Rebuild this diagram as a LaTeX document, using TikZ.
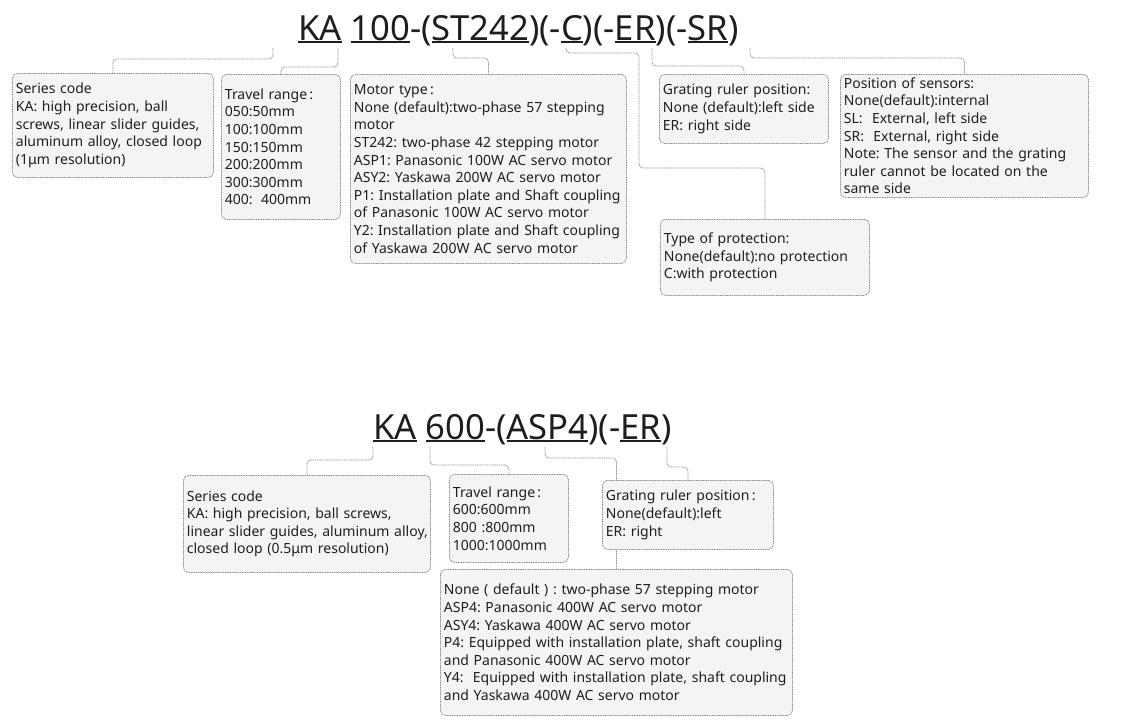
\documentclass[tikz,border=0pt]{standalone}
\usepackage{fontspec}
\setmainfont{Noto Sans}
\definecolor{boxfill}{HTML}{F4F5F3}
\definecolor{boxline}{HTML}{8C8C8C}
\definecolor{ink}{HTML}{1E1E1E}
\newcommand\ulx[1]{\setbox0\hbox{#1}\rlap{\rule[-3pt]{\wd0}{1.6pt}}\box0\relax}
\frenchspacing
\hyphenpenalty=10000
\exhyphenpenalty=10000
\pgfdeclarelayer{bg}
\pgfsetlayers{bg,main}
\tikzset{
  infobox/.style={draw=boxline, line width=0.8pt, dash pattern=on 1pt off 0.7pt,
    fill=boxfill, rounded corners=5pt, anchor=north west, align=left,
    inner xsep=3.5pt, inner ysep=0pt, text=ink,
    font=\fontsize{14}{17.6}\selectfont},
  conn/.style={draw=boxline, line width=0.8pt, dash pattern=on 1pt off 0.7pt, rounded corners=4pt},
  titletext/.style={anchor=base west, inner sep=0pt, text=ink, font=\fontsize{34.6}{40}\selectfont}
}
\begin{document}
\begin{tikzpicture}[x=1pt,y=-1pt]
\useasboundingbox (0,0) rectangle (1122,728);
% titles
\node[titletext] (title1) at (298,40) {\ulx{KA} \ulx{100}-(\ulx{ST242})(-\ulx{C})(-\ulx{ER})(-\ulx{SR})};
\node[titletext] (title2) at (373,439) {\ulx{KA} \ulx{600}-(\ulx{ASP4})(-\ulx{ER})};
% upper boxes
\node[infobox, minimum width=201pt, minimum height=104pt, text width=194pt] (b1) at (12,73)
 {Series code\\KA: high precision, ball\\screws, linear slider guides,\\aluminum alloy, closed loop\\(1μm resolution)};
\node[infobox, minimum width=119pt, minimum height=145pt, text width=112pt] (b2) at (221,74)
 {Travel range\,:\\050:50mm\\100:100mm\\150:150mm\\200:200mm\\300:300mm\\400:\hspace{0.6em}400mm};
\node[infobox, minimum width=276pt, minimum height=189pt, text width=269pt] (b3) at (350,74)
 {Motor type\,:\\None (default):two-phase 57 stepping\\motor\\ST242: two-phase 42 stepping motor\\ASP1: Panasonic 100W AC servo motor\\ASY2: Yaskawa 200W AC servo motor\\P1: Installation plate and Shaft coupling\\of Panasonic 100W AC servo motor\\Y2: Installation plate and Shaft coupling\\of Yaskawa 200W AC servo motor};
\node[infobox, minimum width=169pt, minimum height=69pt, text width=162pt] (b4) at (659,74)
 {Grating ruler position:\\None (default):left side\\ER: right side};
\node[infobox, minimum width=248pt, minimum height=123pt, text width=241pt] (b5) at (840,74)
 {Position of sensors:\\None(default):internal\\SL:\ \ External, left side\\SR:\ \ External, right side\\Note: The sensor and the grating\\ruler cannot be located on the\\same side};
\node[infobox, minimum width=209pt, minimum height=76pt, text width=202pt] (b6) at (660,219)
 {Type of protection:\\None(default):no protection\\C:with protection};
% lower boxes
\node[infobox, minimum width=247pt, minimum height=97pt, text width=240pt] (c1) at (183,475)
 {Series code\\KA: high precision, ball screws,\\\mbox{linear slider guides, aluminum alloy,}\\closed loop (0.5μm resolution)};
\node[infobox, minimum width=119pt, minimum height=88pt, text width=112pt] (c2) at (449,474)
 {Travel range\,:\\600:600mm\\800 :800mm\\1000:1000mm};
\node[infobox, minimum width=352pt, minimum height=146pt, text width=345pt] (c4) at (440,569)
 {None ( default ) : two-phase 57 stepping motor\\ASP4: Panasonic 400W AC servo motor\\ASY4: Yaskawa 400W AC servo motor\\P4: Equipped with installation plate, shaft coupling\\and Panasonic 400W AC servo motor\\Y4:\ \ Equipped with installation plate, shaft coupling\\and Yaskawa 400W AC servo motor};
\node[infobox, minimum width=171pt, minimum height=69pt, text width=164pt] (c3) at (602,480)
 {Grating ruler position\,:\\None(default):left\\ER: right};
% connector start points
\coordinate (s1) at (273,48);
\coordinate (s2) at (338,48);
\coordinate (s3) at (453,48);
\coordinate (s4) at (566,48);
\coordinate (s5) at (652,48);
\coordinate (s6) at (750,48);
\coordinate (u1) at (373,447);
\coordinate (u2) at (430,447);
\coordinate (u3) at (545,447);
\coordinate (u4) at (667,447);
\begin{pgfonlayer}{bg}
\draw[conn] (s1) -- (273,59) -- (b1.north |- 0,59) -- (b1.north);
\draw[conn] (s2) -- (338,67) -- (b2.north |- 0,67) -- (b2.north);
\draw[conn] (s3) -- (453,58) -- (b3.north |- 0,58) -- (b3.north);
\draw[conn] (s4) -- (566,53) -- (639,53) -- (639,168) -- (b6.north |- 0,168) -- (b6.north);
\draw[conn] (s5) -- (652,66) -- (b4.north |- 0,66) -- (b4.north);
\draw[conn] (s6) -- (750,58) -- (b5.north |- 0,58) -- (b5.north);
\draw[conn] (u1) -- (373,460) -- (c1.north |- 0,460) -- (c1.north);
\draw[conn] (u2) -- (430,465) -- (c2.north |- 0,465) -- (c2.north);
\draw[conn] (u3) -- (545,458) -- (c4.north |- 0,458) -- (c4.north);
\draw[conn] (u4) -- (667,467) -- (c3.north |- 0,467) -- (c3.north);
\end{pgfonlayer}
\end{tikzpicture}
\end{document}
